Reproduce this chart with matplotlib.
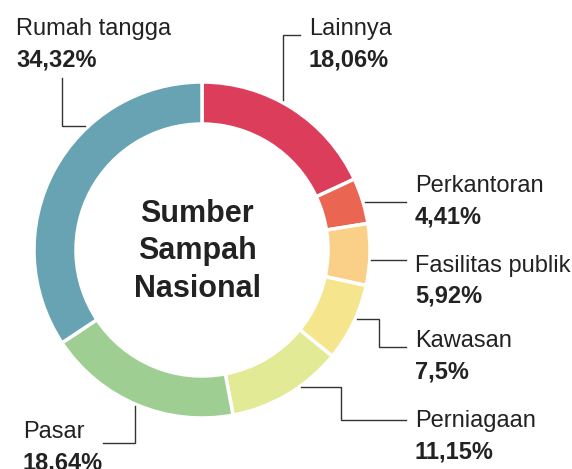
import matplotlib.pyplot as plt

plt.rcParams['font.family'] = ['Liberation Sans', 'DejaVu Sans']

labels = ["Lainnya", "Perkantoran", "Fasilitas publik", "Kawasan",
          "Perniagaan", "Pasar", "Rumah tangga"]
values = [18.06, 4.41, 5.92, 7.5, 11.15, 18.64, 34.32]
value_labels = ["18,06%", "4,41%", "5,92%", "7,5%", "11,15%", "18,64%", "34,32%"]
colors = ["#DC3D5A", "#EA6652", "#FAD088", "#F5E68E", "#E3EA96", "#9FCE92", "#68A3B4"]

W, H = 572, 469
fig = plt.figure(figsize=(W / 100, H / 100), dpi=100)
ax = fig.add_axes([0, 0, 1, 1])
ax.set_xlim(0, W)
ax.set_ylim(0, H)
ax.set_aspect('equal')
ax.axis('off')

# donut
ax.pie(values, colors=colors, startangle=90, counterclock=False,
       radius=168, center=(202, H - 250), frame=True,
       wedgeprops=dict(width=42, edgecolor='white', linewidth=2.5))
ax.set_xlim(0, W)
ax.set_ylim(0, H)
ax.axis('off')

txt = "#222222"

def put(x, y, s, **kw):
    ax.text(x, H - y, s, va='baseline', color=txt, **kw)

# label positions (x, baseline of name) in pixels
label_pos = [(309, 35), (415, 192), (415, 272), (415, 347),
             (415, 427), (23, 438), (16, 35)]
for (x, y), name, val in zip(label_pos, labels, value_labels):
    put(x, y, name, fontsize=17)
    put(x, y + 31, val, fontsize=17, fontweight='bold')

# leader lines
leaders = [
    [(283, 100), (283, 35), (300, 35)],
    [(365, 202), (406, 202)],
    [(371, 260), (406, 260)],
    [(357, 319), (379, 319), (379, 347), (406, 347)],
    [(301, 387), (341, 387), (341, 420), (406, 420)],
    [(135, 406), (135, 443), (103, 443)],
    [(62, 78), (62, 126), (85, 126)],
]
for pts in leaders:
    xs = [p[0] for p in pts]
    ys = [H - p[1] for p in pts]
    ax.plot(xs, ys, color="#333333", lw=1.0, solid_joinstyle='miter')

# centre title
for s, y in zip(["Sumber", "Sampah", "Nasional"], [222, 259, 297]):
    ax.text(197, H - y, s, ha='center', va='baseline', fontsize=22,
            fontweight='bold', color=txt)

fig.savefig("out.png", dpi=100)
